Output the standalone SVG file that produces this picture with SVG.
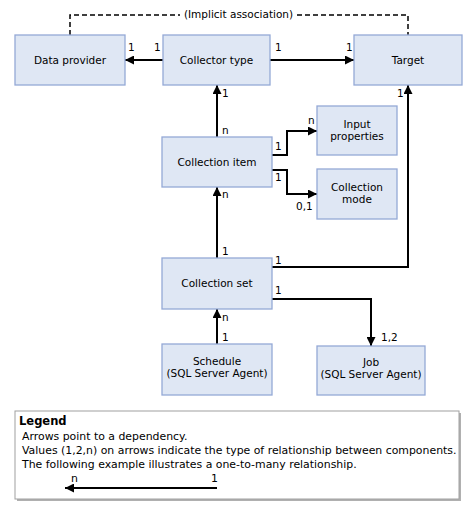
<svg xmlns="http://www.w3.org/2000/svg" width="475" height="510" viewBox="0 0 475 510">
<style>
.box{fill:#dfe7f4;stroke:#94a9d6;stroke-width:1.3}
.t{font-family:"DejaVu Sans",Verdana,sans-serif;font-size:10.5px;fill:#000}
.lg{font-size:10.9px}
.c{text-anchor:middle}
.ln{fill:none;stroke:#000;stroke-width:2}
.dash{fill:none;stroke:#000;stroke-width:1.5;stroke-dasharray:5,3}
</style>
<defs>
<marker id="ah" viewBox="0 0 10 10" refX="10" refY="5" markerWidth="4.5" markerHeight="4.5" orient="auto" markerUnits="strokeWidth">
<path d="M0,0 L10,5 L0,10 Z" fill="#000"/>
</marker>
</defs>
<rect width="475" height="510" fill="#fff"/>
<g id="connectors">
<path class="dash" d="M70,35 V15 H180 M297,15 H408 V35"/>
<text class="t c" x="238.5" y="18">(Implicit association)</text>
<path class="ln" d="M163,60 H125" marker-end="url(#ah)"/>
<text class="t" x="128" y="51">1</text>
<text class="t" x="154" y="51">1</text>
<path class="ln" d="M270,60 H354" marker-end="url(#ah)"/>
<text class="t" x="275" y="51">1</text>
<text class="t" x="346" y="51">1</text>
<path class="ln" d="M217,137 V85" marker-end="url(#ah)"/>
<text class="t" x="222" y="97">1</text>
<text class="t" x="222" y="134">n</text>
<path class="ln" d="M272,155 H287 V131 H317" marker-end="url(#ah)"/>
<text class="t" x="275" y="150">1</text>
<text class="t" x="308" y="124">n</text>
<path class="ln" d="M272,170 H287 V194 H317" marker-end="url(#ah)"/>
<text class="t" x="275" y="181">1</text>
<text class="t" x="296" y="210">0,1</text>
<path class="ln" d="M217,258 V187" marker-end="url(#ah)"/>
<text class="t" x="222" y="198">n</text>
<text class="t" x="222" y="255">1</text>
<path class="ln" d="M272,267 H408 V85" marker-end="url(#ah)"/>
<text class="t" x="275" y="264">1</text>
<text class="t" x="397" y="97">1</text>
<path class="ln" d="M272,299 H371 V346" marker-end="url(#ah)"/>
<text class="t" x="275" y="294">1</text>
<text class="t" x="381" y="341">1,2</text>
<path class="ln" d="M217,344 V309" marker-end="url(#ah)"/>
<text class="t" x="222" y="321">n</text>
<text class="t" x="222" y="341">1</text>
</g>
<g id="data-provider">
<rect class="box" x="15" y="35" width="110" height="50"/>
<text class="t c" x="70" y="63.5">Data provider</text>
</g>
<g id="collector-type">
<rect class="box" x="163" y="35" width="107" height="50"/>
<text class="t c" x="216.5" y="63.5">Collector type</text>
</g>
<g id="target">
<rect class="box" x="354" y="35" width="108" height="50"/>
<text class="t c" x="408" y="63.5">Target</text>
</g>
<g id="collection-item">
<rect class="box" x="162" y="137" width="110" height="50"/>
<text class="t c" x="217" y="165.5">Collection item</text>
</g>
<g id="input-properties">
<rect class="box" x="317" y="106" width="80" height="49"/>
<text class="t c" x="357" y="128">Input</text>
<text class="t c" x="357" y="140">properties</text>
</g>
<g id="collection-mode">
<rect class="box" x="317" y="169" width="80" height="50"/>
<text class="t c" x="357" y="191">Collection</text>
<text class="t c" x="357" y="203">mode</text>
</g>
<g id="collection-set">
<rect class="box" x="162" y="258" width="110" height="51"/>
<text class="t c" x="217" y="286.5">Collection set</text>
</g>
<g id="schedule">
<rect class="box" x="162" y="344" width="110" height="51"/>
<text class="t c" x="217" y="365">Schedule</text>
<text class="t c" x="217" y="377">(SQL Server Agent)</text>
</g>
<g id="job">
<rect class="box" x="317" y="346" width="108" height="49"/>
<text class="t c" x="371" y="366">Job</text>
<text class="t c" x="371" y="378">(SQL Server Agent)</text>
</g>
<g id="legend">
<rect x="17" y="413" width="444" height="88" fill="#b0b0b0"/>
<rect x="15" y="411" width="444" height="88" fill="#fff" stroke="#a0a0a0" stroke-width="1"/>
<text class="t" x="19" y="425" style="font-weight:bold;font-size:11.5px">Legend</text>
<text class="t lg" x="22" y="440">Arrows point to a dependency.</text>
<text class="t lg" x="22" y="454">Values (1,2,n) on arrows indicate the type of relationship between components.</text>
<text class="t lg" x="22" y="468">The following example illustrates a one-to-many relationship.</text>
<text class="t lg" x="71" y="482">n</text>
<text class="t lg" x="211" y="482">1</text>
<path class="ln" d="M217,488 H65" marker-end="url(#ah)"/>
</g>
</svg>
